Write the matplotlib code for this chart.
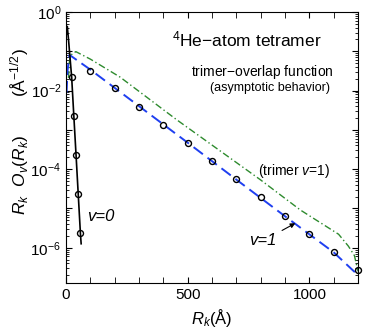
import numpy as np
import matplotlib; matplotlib.use("Agg")
import matplotlib.pyplot as plt
from matplotlib.ticker import LogLocator, FuncFormatter, MultipleLocator, NullFormatter

plt.rcParams["font.family"] = ["Liberation Sans", "DejaVu Sans"]
plt.rcParams["mathtext.fontset"] = "custom"
plt.rcParams["mathtext.rm"] = "Liberation Sans"
plt.rcParams["mathtext.it"] = "Liberation Sans:italic"

# v=0 tetramer overlap (black solid + circles)
R_V0_LINE = [3, 5, 10, 23, 32, 41, 50, 59, 62]
O_V0_LINE = [0.28, 0.43, 0.2, 0.022, 2.2e-3, 2.3e-4, 2.3e-5, 2.3e-6, 1.26e-6]
R_V0_PTS = [23, 32, 41, 50, 59]
O_V0_PTS = [0.022, 2.2e-3, 2.3e-4, 2.3e-5, 2.3e-6]
# v=1 tetramer overlap (blue dashed + circles)
R_V1_LINE = [2, 6, 14, 100, 300, 500, 700, 900, 1100, 1200]
O_V1_LINE = [8.9e-3, 0.032, 0.081, 0.034, 4.0e-3, 4.7e-4, 5.4e-5, 6.3e-6, 7.6e-7, 2.0e-7]
R_V1_PTS = [100, 200, 300, 400, 500, 600, 700, 800, 900, 1000, 1100, 1200]
O_V1_PTS = [0.0324, 0.0115, 3.89e-3, 1.32e-3, 4.68e-4, 1.58e-4, 5.5e-5, 1.9e-5,
            6.5e-6, 2.2e-6, 7.8e-7, 2.7e-7]
# trimer v=1 (green dash-dot)
R_TRI = [10, 13, 18, 40, 100, 222, 455, 798, 963, 1120, 1160, 1185, 1200]
O_TRI = [0.021, 0.05, 0.079, 0.098, 0.063, 0.022, 1.8e-3, 5.4e-5, 9.1e-6,
         2.2e-6, 1.1e-6, 6.3e-7, 2.5e-7]

fig = plt.figure(figsize=(3.65, 3.33), dpi=100)
ax = fig.add_axes([0.181, 0.150, 0.800, 0.814])

ax.plot(R_TRI, O_TRI, color="#2e8b2e", lw=1.0, dashes=(5, 2, 1, 2))
ax.plot(R_V1_LINE, O_V1_LINE, color="#1f3ff0", lw=1.4, dashes=(6, 3))
ax.plot(R_V1_PTS, O_V1_PTS, "o", mfc="none", mec="black", ms=4.3, mew=1.0, clip_on=False)
ax.plot(R_V0_LINE, O_V0_LINE, color="black", lw=1.2)
ax.plot(R_V0_PTS, O_V0_PTS, "o", mfc="none", mec="black", ms=4.3, mew=1.0)

ax.set_yscale("log")
ax.set_xlim(0, 1200)
ax.set_ylim(1.26e-7, 1)

ax.xaxis.set_major_locator(MultipleLocator(500))
ax.xaxis.set_minor_locator(MultipleLocator(100))
ax.yaxis.set_major_locator(LogLocator(base=10, numticks=20))
ax.yaxis.set_minor_locator(LogLocator(base=10, subs=np.arange(2, 10), numticks=20))
ax.yaxis.set_minor_formatter(NullFormatter())

def ylab(v, pos):
    e = int(round(np.log10(v)))
    if e < -6 or e > 0 or e % 2:
        return ""
    return r"$10^{%d}$" % e

ax.yaxis.set_major_formatter(FuncFormatter(ylab))
ax.tick_params(which="both", direction="in", top=True, right=True, labelsize=11)
ax.tick_params(which="major", length=4)
ax.tick_params(which="minor", length=2)
ax.tick_params(axis="x", which="minor", length=4)

ax.text(0.62, 0.898, r"$^4$He$-$atom tetramer", transform=ax.transAxes,
        ha="center", va="center", fontsize=12.5)
ax.text(0.671, 0.779, r"trimer$-$overlap function", transform=ax.transAxes,
        ha="center", va="center", fontsize=10)
ax.text(0.697, 0.718, "(asymptotic behavior)", transform=ax.transAxes,
        ha="center", va="center", fontsize=9)
ax.text(0.78, 0.413, r"(trimer $v$=$1$)", transform=ax.transAxes,
        ha="center", va="center", fontsize=10)
ax.text(85, 6.4e-6, "v=0", ha="left", va="center", fontsize=12, style="italic")
ax.annotate("v=1", xy=(942, 4.2e-6), xytext=(810, 1.5e-6), style="italic",
            ha="center", va="center", fontsize=12,
            arrowprops=dict(arrowstyle="-|>", color="black", lw=0.8,
                            mutation_scale=7, shrinkA=2, shrinkB=0))

ax.set_xlabel(r"$R_k$(Å)", fontsize=12)
fig.text(0.055, 0.604, r"$R_k\ \ O_v(R_k)$        (Å$^{-1/2}$)", rotation=90,
         ha="center", va="center", fontsize=12.5)

fig.savefig("out.png", dpi=100)
